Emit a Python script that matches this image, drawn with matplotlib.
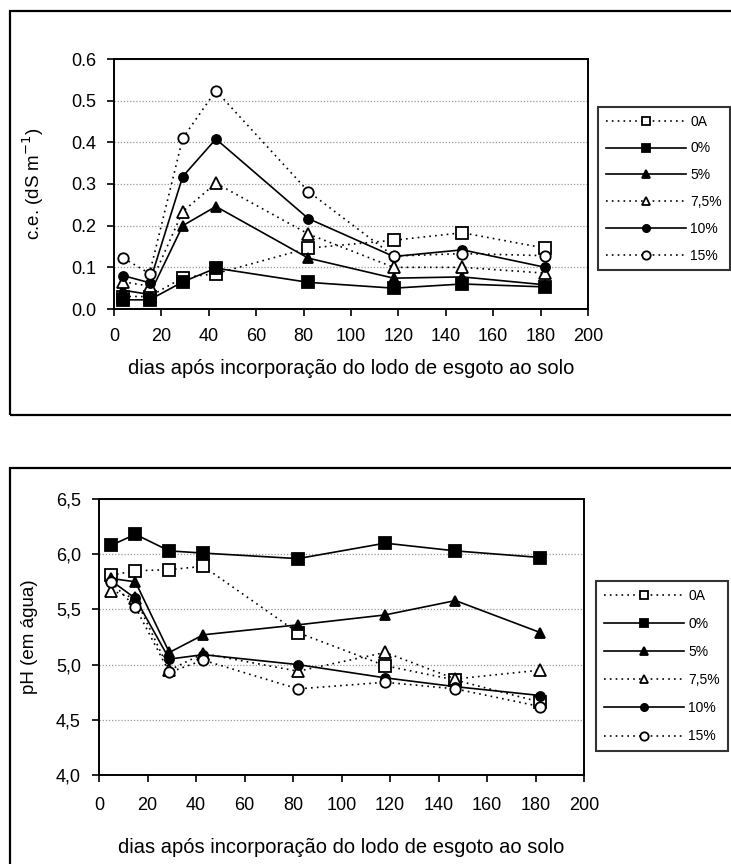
import matplotlib.pyplot as plt
from matplotlib.patches import Rectangle
from matplotlib.ticker import FuncFormatter

plt.rcParams['font.family'] = ['Liberation Sans', 'DejaVu Sans']

# days after sludge incorporation
days_ce = [4, 15, 29, 43, 82, 118, 147, 182]
days_ph = [5, 15, 29, 43, 82, 118, 147, 182]

labels = ['0A', '0%', '5%', '7,5%', '10%', '15%']

# electrical conductivity (dS m-1)
ce_0A = [0.030, 0.030, 0.075, 0.085, 0.146, 0.165, 0.183, 0.146]
ce_0 = [0.022, 0.022, 0.065, 0.098, 0.064, 0.050, 0.060, 0.053]
ce_5 = [0.045, 0.035, 0.200, 0.246, 0.122, 0.074, 0.077, 0.058]
ce_75 = [0.065, 0.055, 0.234, 0.302, 0.180, 0.100, 0.100, 0.086]
ce_10 = [0.080, 0.063, 0.318, 0.408, 0.217, 0.126, 0.142, 0.100]
ce_15 = [0.122, 0.085, 0.410, 0.524, 0.282, 0.127, 0.133, 0.128]

# pH in water
ph_0A = [5.81, 5.85, 5.86, 5.89, 5.29, 4.99, 4.86, 4.66]
ph_0 = [6.08, 6.18, 6.03, 6.01, 5.96, 6.10, 6.03, 5.97]
ph_5 = [5.78, 5.75, 5.11, 5.27, 5.36, 5.45, 5.58, 5.29]
ph_75 = [5.67, 5.60, 4.95, 5.10, 4.94, 5.11, 4.87, 4.95]
ph_10 = [5.76, 5.60, 5.05, 5.09, 5.00, 4.88, 4.80, 4.72]
ph_15 = [5.75, 5.52, 4.93, 5.04, 4.78, 4.84, 4.78, 4.62]

dot = (0, (1, 2.5))
styles = [
    dict(ls=dot, marker='s', mfc='white', ms=8),
    dict(ls='-', marker='s', mfc='black', ms=8),
    dict(ls='-', marker='^', mfc='black', ms=7),
    dict(ls=dot, marker='^', mfc='white', ms=8),
    dict(ls='-', marker='o', mfc='black', ms=6.5),
    dict(ls=dot, marker='o', mfc='white', ms=7.5),
]

W, H = 731, 864
fig = plt.figure(figsize=(W / 100, H / 100), dpi=100)


def box(l, t, r, b):
    return [l / W, 1 - b / H, (r - l) / W, (b - t) / H]


# outer chart frames
for t, b in [(11, 415), (468, 880)]:
    fig.patches.append(Rectangle((10 / W, 1 - b / H), (W + 10) / W, (b - t) / H,
                                 transform=fig.transFigure, fill=False,
                                 edgecolor='black', lw=1.6, clip_on=False))


def draw(ax, days, series, ylim, yticks, fmt, ylabel, leg_pos, spacing,
         ylabpad, xlabpad, xpad):
    for vals, lab, st in zip(series, labels, styles):
        ax.plot(days, vals, color='black', lw=1.2, mec='black', mew=1.3,
                label=lab, **st)
    ax.set_xlim(0, 200)
    ax.set_xticks(range(0, 201, 20))
    ax.set_ylim(*ylim)
    ax.set_yticks(yticks)
    ax.yaxis.set_major_formatter(FuncFormatter(fmt))
    ax.yaxis.grid(True, color='#999999', linestyle=(0, (1, 1.5)), lw=0.9)
    ax.set_axisbelow(True)
    for s in ax.spines.values():
        s.set_linewidth(1.4)
    ax.tick_params(direction='out', length=5, width=1.2, labelsize=13)
    ax.tick_params(axis='y', pad=8)
    ax.tick_params(axis='x', pad=xpad)
    ax.set_ylabel(ylabel, fontsize=13.5, labelpad=ylabpad)
    ax.set_xlabel('dias após incorporação do lodo de esgoto ao solo',
                  fontsize=14.5, labelpad=xlabpad)
    leg = ax.legend(loc='upper left', bbox_to_anchor=leg_pos,
                    bbox_transform=fig.transFigure, fontsize=10,
                    frameon=True, fancybox=False, edgecolor='black',
                    handlelength=5.8, handletextpad=0.3, labelspacing=spacing,
                    borderaxespad=0, borderpad=0.55, markerscale=0.8)
    leg.get_frame().set_linewidth(1.5)


ax1 = fig.add_axes(box(114, 59, 588, 309))
draw(ax1, days_ce, [ce_0A, ce_0, ce_5, ce_75, ce_10, ce_15],
     (0, 0.6), [0, 0.1, 0.2, 0.3, 0.4, 0.5, 0.6],
     lambda v, p: f'{v:.1f}', 'c.e. (dS m$^{-1}$)',
     (598 / W, 1 - 107 / H), 0.92, 18, 10, 9)

ax2 = fig.add_axes(box(99, 499, 584, 775))
draw(ax2, days_ph, [ph_0A, ph_0, ph_5, ph_75, ph_10, ph_15],
     (4.0, 6.5), [4.0, 4.5, 5.0, 5.5, 6.0, 6.5],
     lambda v, p: f'{v:.1f}'.replace('.', ','), 'pH (em água)',
     (596 / W, 1 - 581 / H), 1.02, 13, 17, 11)

fig.savefig('out.png', dpi=100)
